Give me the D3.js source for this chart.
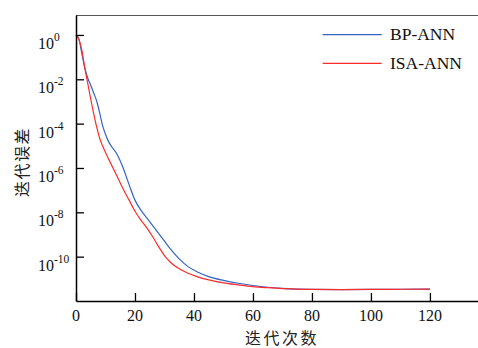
<!DOCTYPE html>
<html><head><meta charset="utf-8">
<script src="https://cdn.jsdelivr.net/npm/d3@7"></script>
<style>
html,body{margin:0;padding:0;background:#fff;}
svg{display:block;}
</style></head>
<body>
<svg id="c" width="478" height="348"></svg>
<script>
// iterations (x)
const iterations = [0,1,2,3,4,5,6,7,8,9,10,11,12,14,16,18,20,22,24,26,28,30,32,35,38,41,45,50,55,60,65,70,80,90,100,110,120];
// log10 of iteration error
const bpExp  = [0,-0.2,-0.85,-1.5,-1.95,-2.27,-2.62,-2.98,-3.5,-4.08,-4.48,-4.8,-5.02,-5.4,-6.0,-6.75,-7.45,-7.9,-8.25,-8.6,-8.95,-9.3,-9.65,-10.1,-10.45,-10.68,-10.9,-11.07,-11.2,-11.3,-11.38,-11.43,-11.48,-11.49,-11.48,-11.47,-11.46];
const isaExp = [0,-0.2,-0.7,-1.5,-2.2,-2.9,-3.55,-4.15,-4.65,-5.0,-5.3,-5.58,-5.85,-6.4,-6.95,-7.45,-7.95,-8.35,-8.7,-9.1,-9.55,-9.95,-10.25,-10.55,-10.75,-10.9,-11.05,-11.18,-11.27,-11.35,-11.4,-11.44,-11.48,-11.49,-11.48,-11.47,-11.46];
const seriesNames = ["BP-ANN","ISA-ANN"];
const seriesColors = ["#3563c2","#ff2b2b"];
const xTicks = [0,20,40,60,80,100,120];
const yTickExps = [0,-2,-4,-6,-8,-10];
const xTitle = "迭代次数";
const yTitle = "迭代误差";

const svg = d3.select("#c");
const L = 76, R = 478, T = 15, B = 301;
const x = d3.scaleLinear().domain([0,136.3]).range([L,R]);
const y = d3.scaleLog().domain([1e-12, Math.pow(10,0.9)]).range([B,T]);

// top frame line
svg.append("line").attr("x1",L).attr("x2",R).attr("y1",T+0.5).attr("y2",T+0.5)
  .attr("stroke","#555").attr("stroke-width",1);

// series
const line = d3.line().x(d=>x(d[0])).y(d=>y(d[1])).curve(d3.curveMonotoneX);
[bpExp, isaExp].forEach((exps,i)=>{
  const pts = iterations.map((it,j)=>[it, Math.pow(10, exps[j])]);
  svg.append("path").datum(pts).attr("d",line).attr("fill","none")
    .attr("stroke",seriesColors[i]).attr("stroke-width",1.2);
});

// x axis
const xAxis = d3.axisBottom(x).tickValues(xTicks).tickSizeInner(-8).tickSizeOuter(0).tickFormat("");
const gx = svg.append("g").attr("transform",`translate(0,${B})`).call(xAxis);
gx.select(".domain").attr("stroke","#000").attr("stroke-width",1.5);
gx.selectAll(".tick line").attr("stroke","#000").attr("stroke-width",1.3);
svg.append("g").selectAll("text").data(xTicks).join("text")
  .attr("x",d=>x(d)).attr("y",321).attr("text-anchor","middle")
  .attr("font-family","'Liberation Serif','Times New Roman',serif").attr("font-size",16)
  .attr("fill","#111").text(d=>d);

// y axis
const yAxis = d3.axisLeft(y).tickValues(yTickExps.map(e=>Math.pow(10,e))).tickSizeInner(-8).tickSizeOuter(0).tickFormat("");
const gy = svg.append("g").attr("transform",`translate(${L},0)`).call(yAxis);
gy.select(".domain").attr("stroke","#000").attr("stroke-width",1.5);
gy.selectAll(".tick line").attr("stroke","#000").attr("stroke-width",1.3);
const yl = svg.append("g").selectAll("text").data(yTickExps).join("text")
  .attr("x",38).attr("y",d=>y(Math.pow(10,d))+14)
  .attr("font-family","'Liberation Serif','Times New Roman',serif").attr("font-size",16)
  .attr("fill","#111");
yl.append("tspan").text("10");
yl.append("tspan").attr("dy",-8).attr("font-size",11.5).text(d=>d===0?"0":"-"+(-d));

// titles
svg.append("text").attr("x",282).attr("y",344).attr("text-anchor","middle")
  .attr("font-family","'Noto Sans CJK SC',sans-serif").attr("font-size",16).attr("letter-spacing",2.5)
  .attr("fill","#222").text(xTitle);
svg.append("text").attr("transform","translate(28,162) rotate(-90)").attr("text-anchor","middle")
  .attr("font-family","'Noto Sans CJK SC',sans-serif").attr("font-size",16).attr("letter-spacing",1.5)
  .attr("fill","#222").text(yTitle);

// legend
const legY = [34.7, 63.3];
seriesNames.forEach((n,i)=>{
  svg.append("line").attr("x1",322.7).attr("x2",381.7).attr("y1",legY[i]).attr("y2",legY[i])
    .attr("stroke",seriesColors[i]).attr("stroke-width",1.3);
  svg.append("text").attr("x",390).attr("y",legY[i]+5.5)
    .attr("font-family","'Liberation Serif','Times New Roman',serif").attr("font-size",17.5)
    .attr("fill","#111").text(n);
});
</script>
</body></html>
